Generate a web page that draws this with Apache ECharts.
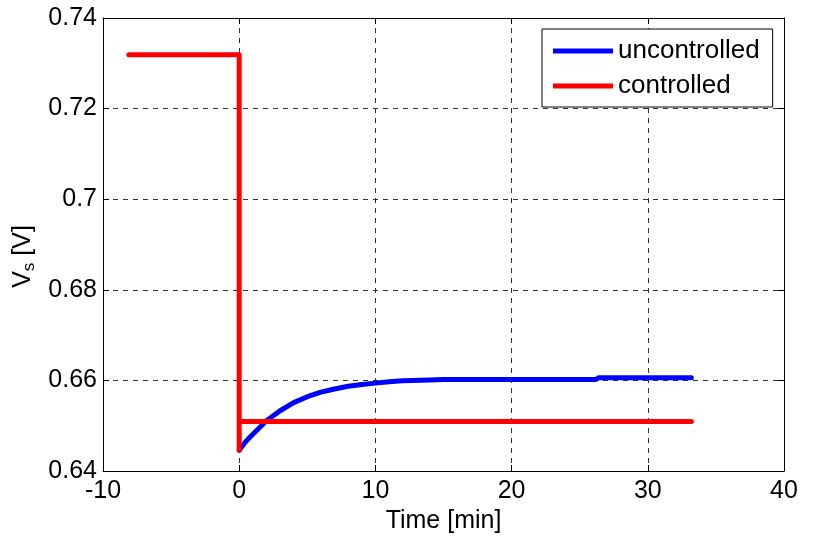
<!DOCTYPE html>
<html>
<head>
<meta charset="utf-8">
<script src="https://cdn.jsdelivr.net/npm/echarts@6/dist/echarts.min.js"></script>
<style>
  html, body { margin: 0; padding: 0; background: #fff; }
  #main { width: 813px; height: 539px; }
</style>
</head>
<body>
<div id="main"></div>
<script>
// data (time in min, Vs in V)
var seriesNames = ['uncontrolled', 'controlled'];
var uncontrolled = [
  [0, 0.6446], [0.4, 0.6462], [0.8, 0.6475], [1.3, 0.649], [2, 0.6511],
  [3, 0.6533], [4, 0.6551], [5, 0.6564], [6, 0.6574], [7, 0.6581],
  [8, 0.6587], [9, 0.6591], [10, 0.6594], [11, 0.6597], [12, 0.6599],
  [14, 0.6601], [15, 0.6602], [26.2, 0.6602], [26.4, 0.6606], [33.2, 0.6606]
];
var controlled = [
  [-8.1, 0.7319], [0, 0.7319], [0, 0.6446], [0, 0.6509], [33.2, 0.6509]
];
var xRange = [-10, 40, 10];
var yRange = [0.64, 0.74, 0.02];

var FONT = "'Liberation Sans', Arial, sans-serif";
var myChart = echarts.init(document.getElementById('main'));

var gridLine = { show: true, lineStyle: { color: '#333', width: 1, type: [5, 5] } };
var axisLine = { show: true, onZero: false, lineStyle: { color: '#000', width: 1 } };
var tick = { show: true, inside: true, length: 6, lineStyle: { color: '#000' } };

function fmtY(v) { return String(+v.toFixed(2)); }

var option = {
  backgroundColor: '#fff',
  animation: false,
  textStyle: { fontFamily: FONT },
  grid: { left: 103, right: 29, top: 18, bottom: 68, containLabel: false, outerBoundsMode: 'none' },
  legend: {
    orient: 'vertical',
    left: 542, top: 29,
    padding: [7, 13, 6, 11],
    itemGap: 5,
    itemWidth: 60, itemHeight: 5,
    icon: 'rect',
    backgroundColor: '#fff',
    borderColor: '#000', borderWidth: 1, borderRadius: 0,
    textStyle: { fontFamily: FONT, fontSize: 26, color: '#000', lineHeight: 30 },
    data: seriesNames
  },
  xAxis: [
    {
      type: 'value', min: xRange[0], max: xRange[1], interval: xRange[2],
      name: 'Time [min]', nameLocation: 'middle', nameGap: 38,
      nameTextStyle: { fontFamily: FONT, fontSize: 25, color: '#000' },
      axisLine: axisLine, axisTick: tick, splitLine: gridLine,
      axisLabel: { fontFamily: FONT, fontSize: 25, color: '#000', margin: 8 }
    },
    {
      type: 'value', position: 'top', min: xRange[0], max: xRange[1], interval: xRange[2],
      axisLine: axisLine, axisTick: tick, splitLine: { show: false },
      axisLabel: { show: false }
    }
  ],
  yAxis: [
    {
      type: 'value', min: yRange[0], max: yRange[1], interval: yRange[2],
      name: 'V{sub|s} [V]', nameLocation: 'middle', nameGap: 50, nameRotate: 90,
      nameTextStyle: {
        fontFamily: FONT, fontSize: 25, color: '#000', padding: [0, 24, 0, 0],
        rich: { sub: { fontFamily: FONT, fontSize: 17, color: '#000', padding: [12, 0, 0, 0] } }
      },
      axisLine: axisLine, axisTick: tick, splitLine: gridLine,
      axisLabel: { fontFamily: FONT, fontSize: 25, color: '#000', margin: 6, formatter: fmtY }
    },
    {
      type: 'value', position: 'right', min: yRange[0], max: yRange[1], interval: yRange[2],
      axisLine: axisLine, axisTick: tick, splitLine: { show: false },
      axisLabel: { show: false }
    }
  ],
  series: [
    {
      name: seriesNames[0], type: 'line', data: uncontrolled,
      showSymbol: false, symbol: 'none', color: '#0000ff',
      lineStyle: { width: 5, color: '#0000ff', cap: 'round', join: 'round' }, z: 2
    },
    {
      name: seriesNames[1], type: 'line', data: controlled,
      showSymbol: false, symbol: 'none', color: '#ff0000',
      lineStyle: { width: 5, color: '#ff0000', cap: 'round', join: 'round' }, z: 3
    }
  ]
};
myChart.setOption(option);
</script>
</body>
</html>
